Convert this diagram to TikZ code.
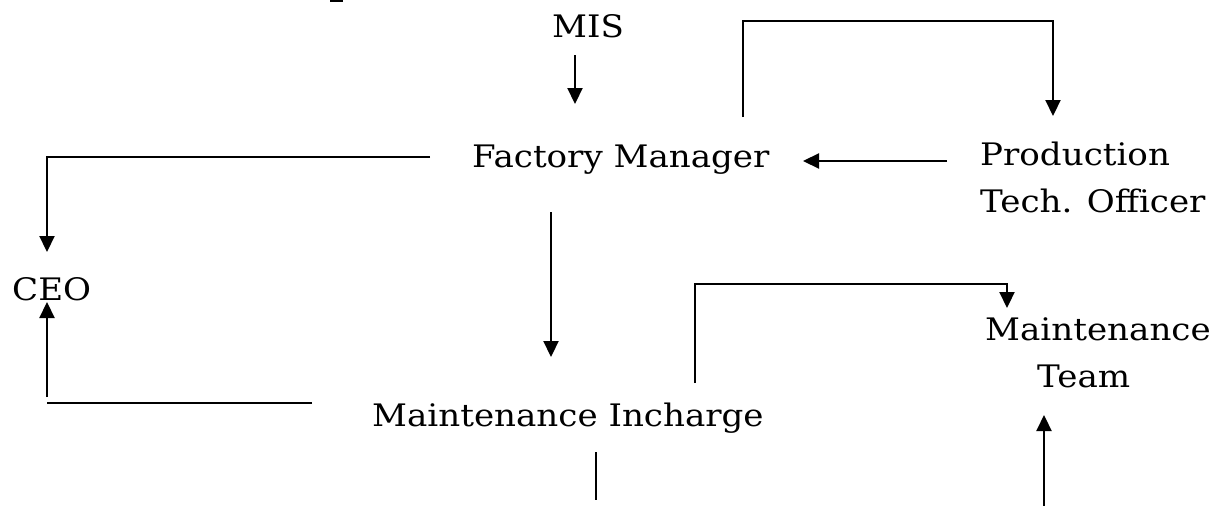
\documentclass[tikz,border=0pt]{standalone}
\usepackage{fontspec}
\setmainfont{DejaVu Serif}[FakeStretch=1.1]
\usetikzlibrary{arrows.meta}
\begin{document}
\begin{tikzpicture}[x=1pt,y=-1pt,
  lbl/.style={inner sep=0pt, anchor=base west, font=\fontsize{31}{47}\selectfont},
  conn/.style={line width=2.2pt},
  arr/.style={conn,-{Triangle[length=16pt,width=15pt]}}]
\fill[white] (0,0) rectangle (1232,506);
\useasboundingbox (0,0) rectangle (1232,506);

% role labels (multi-line labels are anchored at their last baseline)
\node[lbl] (mis) at (552,37) {MIS};
\node[lbl] (fm) at (472,167) {Factory Manager};
\node[lbl,align=left] (pto) at (980,212) {Production\\Tech. Officer};
\node[lbl] (ceo) at (12,300) {CEO};
\node[lbl] (mi) at (372,426) {Maintenance Incharge};
\node[lbl,align=left] (mt) at (985,387) {Maintenance\\\hspace*{52pt}Team};

% connector end points and corners
\coordinate (misOut) at (575,55);   \coordinate (fmTop) at (575,104);
\coordinate (fmUp) at (743,117);    \coordinate (ptoTop) at (1053,116);
\coordinate (loopTop) at (0,21);
\coordinate (ptoLeft) at (947,161); \coordinate (fmRight) at (803,161);
\coordinate (fmLeft) at (430,157);  \coordinate (ceoTop) at (47,252);
\coordinate (ceoBot) at (47,302);   \coordinate (ceoLow) at (47,397);
\coordinate (miLeft) at (312,403);  \coordinate (miLeftEnd) at (47,403);
\coordinate (fmDown) at (551,212);  \coordinate (miTop) at (551,357);
\coordinate (miUp) at (695,383);    \coordinate (mtTop) at (1007,308);
\coordinate (mtLoop) at (0,284);
\coordinate (miDown) at (596,452);  \coordinate (miDownEnd) at (596,500);
\coordinate (mtBelow) at (1044,506); \coordinate (mtBot) at (1044,415);
\coordinate (stubA) at (330,1);     \coordinate (stubB) at (343,1);

% connectors
\draw[arr] (misOut) -- (fmTop);
\draw[arr] (fmUp) -- (fmUp |- loopTop) -| (ptoTop);
\draw[arr] (ptoLeft) -- (fmRight);
\draw[arr] (fmLeft) -| (ceoTop);
\draw[arr] (ceoLow) -- (ceoBot);
\draw[conn] (miLeft) -- (miLeftEnd);
\draw[arr] (fmDown) -- (miTop);
\draw[arr] (miUp) -- (miUp |- mtLoop) -| (mtTop);
\draw[conn] (miDown) -- (miDownEnd);
\draw[arr] (mtBelow) -- (mtBot);
\draw[conn] (stubA) -- (stubB);
\end{tikzpicture}
\end{document}
